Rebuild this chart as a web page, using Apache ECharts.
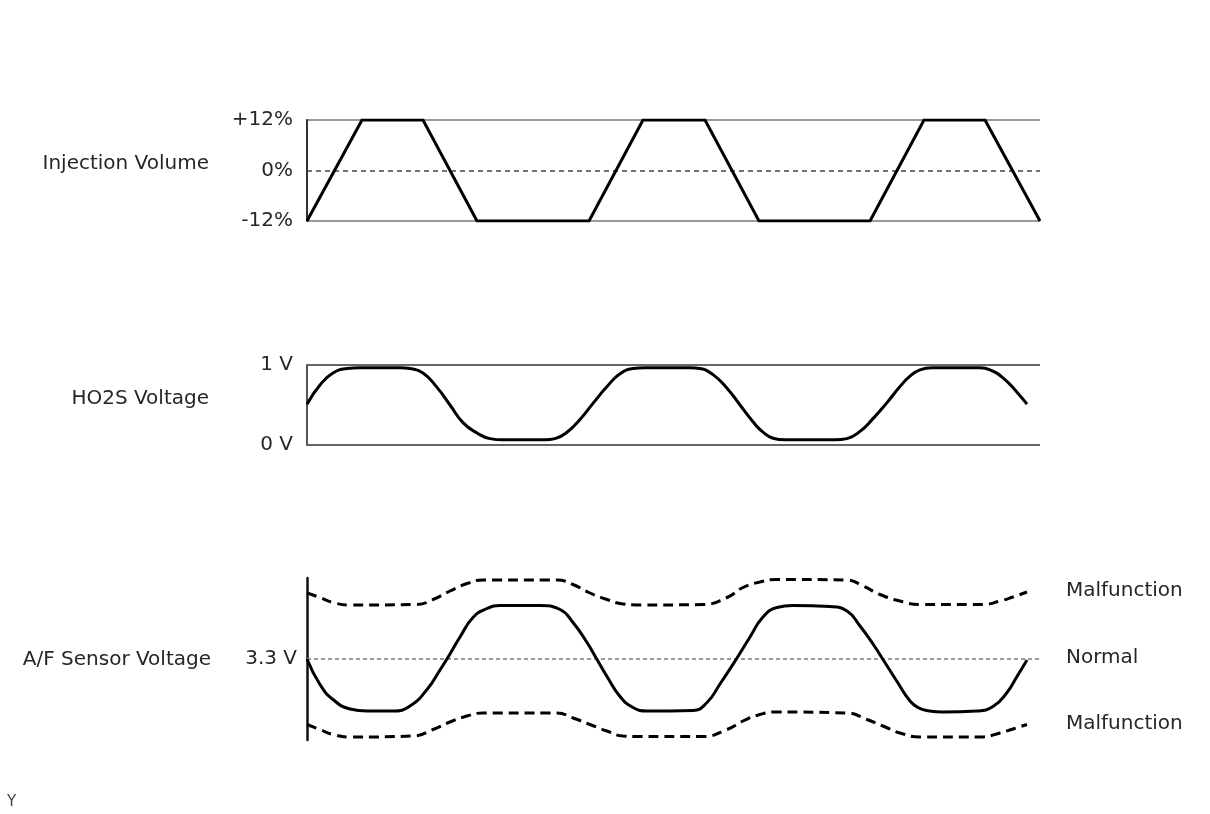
<!DOCTYPE html>
<html>
<head>
<meta charset="utf-8">
<script src="https://cdn.jsdelivr.net/npm/echarts@6/dist/echarts.min.js"></script>
<style>
html,body{margin:0;padding:0;background:#fff;}
#chart{width:1210px;height:814px;}
</style>
</head>
<body>
<div id="chart"></div>
<script>
// ---- Data (time in s) ----
const rowTitles = ['Injection Volume', 'HO2S Voltage', 'A/F Sensor Voltage'];

// Injection volume (%)
const injT = [0, 0.55, 1.16, 1.70, 2.82, 3.36, 3.98, 4.52, 5.63, 6.17, 6.78, 7.33];
const injV = [-12, 12, 12, -12, -12, 12, 12, -12, -12, 12, 12, -12];
const injTicks = [-12, 0, 12];
const injTickLabels = ['-12%', '0%', '+12%'];

// HO2S voltage (V)
const ho2sT = [0.00, 0.13, 0.26, 0.40, 0.53, 0.93, 1.03, 1.16, 1.30, 1.43, 1.56, 1.70, 1.83, 1.96, 2.38, 2.48, 2.60, 2.73, 2.86, 3.00, 3.13, 3.26, 3.38, 3.83, 3.93, 4.06, 4.20, 4.33, 4.46, 4.56, 4.66, 4.78, 5.28, 5.40, 5.53, 5.66, 5.80, 5.93, 6.03, 6.13, 6.25, 6.73, 6.83, 6.96, 7.10, 7.20];
const ho2sV = [0.51, 0.75, 0.90, 0.955, 0.965, 0.965, 0.955, 0.90, 0.72, 0.50, 0.28, 0.15, 0.08, 0.065, 0.065, 0.08, 0.16, 0.32, 0.52, 0.73, 0.89, 0.955, 0.965, 0.965, 0.955, 0.88, 0.71, 0.50, 0.29, 0.16, 0.085, 0.065, 0.065, 0.08, 0.17, 0.33, 0.53, 0.73, 0.86, 0.94, 0.965, 0.965, 0.94, 0.84, 0.66, 0.51];
const ho2sTicks = [0, 1];
const ho2sTickLabels = ['0 V', '1 V'];

// A/F sensor voltage (V) - normal
const afT = [0, 0.13, 0.26, 0.43, 0.60, 0.86, 1.03, 1.20, 1.33, 1.43, 1.53, 1.66, 1.80, 1.93, 2.33, 2.53, 2.66, 2.80, 2.90, 3.00, 3.13, 3.26, 3.40, 3.86, 4.00, 4.13, 4.30, 4.43, 4.56, 4.70, 4.86, 5.23, 5.40, 5.53, 5.66, 5.76, 5.90, 6.03, 6.12, 6.20, 6.36, 6.70, 6.86, 7.00, 7.10, 7.20];
const afV = [3.30, 3.045, 2.895, 2.80, 2.78, 2.78, 2.83, 2.995, 3.19, 3.35, 3.52, 3.715, 3.805, 3.835, 3.835, 3.795, 3.665, 3.465, 3.295, 3.125, 2.925, 2.815, 2.78, 2.785, 2.865, 3.05, 3.31, 3.52, 3.72, 3.815, 3.835, 3.825, 3.78, 3.63, 3.45, 3.295, 3.075, 2.88, 2.81, 2.785, 2.77, 2.78, 2.825, 2.965, 3.125, 3.29];

// A/F sensor voltage (V) - malfunction (upper)
const afHiT = [0, 0.13, 0.26, 0.43, 1.10, 1.26, 1.43, 1.60, 1.76, 2.50, 2.66, 2.83, 3.00, 3.16, 3.33, 3.96, 4.20, 4.36, 4.53, 4.70, 5.40, 5.56, 5.73, 5.93, 6.13, 6.76, 6.93, 7.06, 7.20];
const afHiV = [3.96, 3.915, 3.865, 3.84, 3.845, 3.895, 3.98, 4.055, 4.09, 4.09, 4.045, 3.96, 3.895, 3.85, 3.84, 3.845, 3.915, 4.015, 4.07, 4.095, 4.09, 4.03, 3.945, 3.88, 3.845, 3.845, 3.88, 3.92, 3.97];

// A/F sensor voltage (V) - malfunction (lower)
const afLoT = [0, 0.13, 0.26, 0.43, 1.06, 1.26, 1.43, 1.60, 1.76, 2.50, 2.66, 2.83, 3.00, 3.16, 3.33, 3.96, 4.20, 4.36, 4.53, 4.70, 5.40, 5.60, 5.76, 5.93, 6.13, 6.73, 6.93, 7.06, 7.20];
const afLoV = [2.645, 2.595, 2.545, 2.52, 2.53, 2.595, 2.67, 2.73, 2.76, 2.76, 2.71, 2.645, 2.58, 2.53, 2.525, 2.525, 2.595, 2.68, 2.745, 2.77, 2.76, 2.695, 2.63, 2.56, 2.52, 2.52, 2.56, 2.60, 2.645];
const afTicks = [3.3];
const afTickLabels = ['3.3 V'];

const seriesNames = ['Malfunction', 'Normal', 'Malfunction'];
const cornerLabel = 'Y';

// ---- Build chart ----
const FONT = 'DejaVu Sans';
const TXT = '#262626';
const SMOOTH = 0.5;
const pair = (t, v) => t.map((x, i) => [x, v[i]]);
const mapLabel = (ticks, labels) => (val) => {
  const i = ticks.findIndex(t => Math.abs(t - val) < 1e-6);
  return i >= 0 ? labels[i] : '';
};

const chart = echarts.init(document.getElementById('chart'), null, {renderer: 'canvas'});

const gridBase = {left: 307, right: 170, containLabel: false};
const xBase = {type: 'value', min: 0, max: 7.33, show: false};
const labelStyle = {color: TXT, fontFamily: FONT, fontSize: 20};

const option = {
  animation: false,
  backgroundColor: '#fff',
  grid: [
    Object.assign({top: 120, height: 101}, gridBase),
    Object.assign({top: 365, height: 80}, gridBase),
    Object.assign({top: 578, height: 162}, gridBase)
  ],
  xAxis: [
    Object.assign({gridIndex: 0}, xBase),
    Object.assign({gridIndex: 1}, xBase),
    Object.assign({gridIndex: 2}, xBase)
  ],
  yAxis: [
    {
      gridIndex: 0, type: 'value', min: -12, max: 12, interval: 24,
      axisLine: {show: true, lineStyle: {color: '#333', width: 2}},
      axisTick: {show: false},
      splitLine: {show: true, lineStyle: {color: '#9a9a9a', width: 2}},
      axisLabel: Object.assign({customValues: injTicks, margin: 14, formatter: mapLabel(injTicks, injTickLabels)}, labelStyle)
    },
    {
      gridIndex: 1, type: 'value', min: 0, max: 1, interval: 1,
      axisLine: {show: true, lineStyle: {color: '#555', width: 2}},
      axisTick: {show: false},
      splitLine: {show: true, lineStyle: {color: '#666', width: 2}},
      axisLabel: Object.assign({customValues: ho2sTicks, margin: 14, formatter: mapLabel(ho2sTicks, ho2sTickLabels)}, labelStyle)
    },
    {
      gridIndex: 2, type: 'value', min: 2.49, max: 4.11,
      axisLine: {show: true, lineStyle: {color: '#111', width: 2.5}},
      axisTick: {show: false},
      splitLine: {show: false},
      axisLabel: Object.assign({customValues: afTicks, margin: 10, formatter: mapLabel(afTicks, afTickLabels)}, labelStyle)
    }
  ],
  series: [
    {
      type: 'line', name: 'Injection Volume', xAxisIndex: 0, yAxisIndex: 0,
      data: pair(injT, injV), showSymbol: false, z: 3,
      lineStyle: {color: '#000', width: 3, join: 'miter'},
      markLine: {
        silent: true, symbol: 'none', label: {show: false}, z: 1,
        lineStyle: {color: '#444', width: 1.5, type: [5, 4]},
        data: [{yAxis: 0}]
      }
    },
    {
      type: 'line', name: 'HO2S Voltage', xAxisIndex: 1, yAxisIndex: 1,
      data: pair(ho2sT, ho2sV), showSymbol: false, smooth: SMOOTH, z: 3,
      lineStyle: {color: '#000', width: 3}
    },
    {
      type: 'line', name: seriesNames[0], xAxisIndex: 2, yAxisIndex: 2,
      data: pair(afHiT, afHiV), showSymbol: false, smooth: SMOOTH, z: 3,
      lineStyle: {color: '#000', width: 3, type: [10, 6]},
      endLabel: {show: true, formatter: seriesNames[0], distance: 39, offset: [0, -1], color: TXT, fontFamily: FONT, fontSize: 20}
    },
    {
      type: 'line', name: seriesNames[1], xAxisIndex: 2, yAxisIndex: 2,
      data: pair(afT, afV), showSymbol: false, smooth: SMOOTH, z: 3,
      lineStyle: {color: '#000', width: 3},
      endLabel: {show: true, formatter: seriesNames[1], distance: 39, offset: [0, -2], color: TXT, fontFamily: FONT, fontSize: 20},
      markLine: {
        silent: true, symbol: 'none', label: {show: false}, z: 1,
        lineStyle: {color: '#9a9a9a', width: 2, type: [4, 3]},
        data: [{yAxis: 3.3}]
      }
    },
    {
      type: 'line', name: seriesNames[2], xAxisIndex: 2, yAxisIndex: 2,
      data: pair(afLoT, afLoV), showSymbol: false, smooth: SMOOTH, z: 3,
      lineStyle: {color: '#000', width: 3, type: [10, 6]},
      endLabel: {show: true, formatter: seriesNames[2], distance: 39, offset: [0, -1], color: TXT, fontFamily: FONT, fontSize: 20}
    }
  ],
  graphic: [
    {type: 'text', x: 209, y: 164, style: {text: rowTitles[0], align: 'right', verticalAlign: 'middle', fill: TXT, font: '20px "' + FONT + '"'}},
    {type: 'text', x: 209, y: 399, style: {text: rowTitles[1], align: 'right', verticalAlign: 'middle', fill: TXT, font: '20px "' + FONT + '"'}},
    {type: 'text', x: 211, y: 660, style: {text: rowTitles[2], align: 'right', verticalAlign: 'middle', fill: TXT, font: '20px "' + FONT + '"'}},
    {type: 'text', x: 7, y: 802, style: {text: cornerLabel, align: 'left', verticalAlign: 'middle', fill: '#444', font: '15px "' + FONT + '"'}}
  ]
};
chart.setOption(option);
</script>
</body>
</html>
